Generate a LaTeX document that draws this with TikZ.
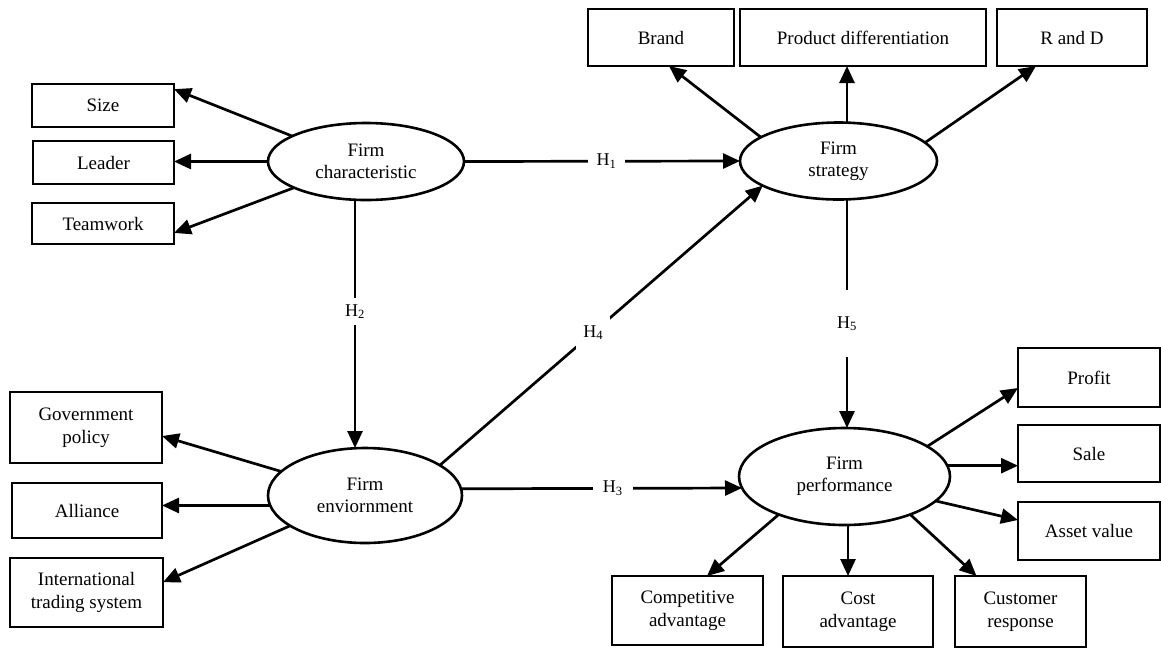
\documentclass[tikz,border=0pt]{standalone}
\usepackage{fontspec}
\setmainfont{Liberation Serif}
\usetikzlibrary{shapes.geometric,arrows.meta,calc}
\begin{document}
\begin{tikzpicture}[x=1pt,y=-1pt,
  box/.style={draw,line width=2.9pt,rectangle,inner sep=0pt,outer sep=0pt,align=center,font=\fontsize{19}{22.5}\selectfont},
  oval/.style={draw,line width=2.6pt,ellipse,inner sep=0pt,outer sep=0pt,align=center,font=\fontsize{19}{22}\selectfont},
  arr/.style={line width=2.7pt,-{Triangle[length=17pt,width=15pt]}},
  hyp/.style={fill=white,inner xsep=9pt,inner ysep=4pt,font=\fontsize{18}{20}\selectfont}
]
\fill[white] (0,0) rectangle (1161,649);
\useasboundingbox (0,0) rectangle (1161,649);

% left top boxes
\node[box,minimum width=142pt,minimum height=43pt] (size) at (103,105.5) {Size};
\node[box,minimum width=141pt,minimum height=43pt] (leader) at (103.5,162.5) {Leader};
\node[box,minimum width=142pt,minimum height=41pt] (team) at (103,223.5) {Teamwork};
% left bottom boxes
\node[box,minimum width=152pt,minimum height=71pt] (gov) at (86,427.5) {Government\\policy};
\node[box,minimum width=150pt,minimum height=55pt] (alli) at (87,510.5) {Alliance};
\node[box,minimum width=153pt,minimum height=69pt] (intl) at (86.5,592.5) {International\\trading system};
% top boxes
\node[box,minimum width=146pt,minimum height=57pt] (brand) at (661,37.5) {Brand};
\node[box,minimum width=246pt,minimum height=57pt] (pd) at (863,37.5) {Product differentiation};
\node[box,minimum width=150pt,minimum height=57pt] (rd) at (1072,37.5) {R and D};
% right boxes
\node[box,minimum width=142pt,minimum height=59pt] (profit) at (1089,377.5) {Profit};
\node[box,minimum width=142pt,minimum height=57pt] (sale) at (1089,453.5) {Sale};
\node[box,minimum width=142pt,minimum height=58pt] (asset) at (1089,531) {Asset value};
% bottom boxes
\node[box,minimum width=151pt,minimum height=69pt] (comp) at (687.5,610.5) {Competitive\\advantage};
\node[box,minimum width=150pt,minimum height=71pt] (cost) at (858,611.5) {Cost\\advantage};
\node[box,minimum width=131pt,minimum height=71pt] (cust) at (1020.5,611.5) {Customer\\response};

% ellipses
\node[oval,minimum width=196pt,minimum height=77pt] (char) at (366,161.5) {Firm\\characteristic};
\node[oval,minimum width=194pt,minimum height=95pt] (env) at (365,495.5) {Firm\\enviornment};
\node[oval,minimum width=197pt,minimum height=77pt] (strat) at (838.5,161) {Firm\\strategy};
\node[oval,minimum width=211pt,minimum height=97pt] (perf) at (844.5,476.5) {Firm\\performance};

% characteristic indicators
\draw[arr] (char.161) -- ($(size.north east)!0.12!(size.south east)$);
\draw[arr] (char.west) -- (char.west -| leader.east);
\draw[arr] (char.200) -- ($(team.north east)!0.73!(team.south east)$);
% environment indicators
\draw[arr] (env.164) -- ($(gov.north east)!0.62!(gov.south east)$);
\draw[arr] (env.186) -- (env.186 -| alli.east);
\draw[arr] (env.202) -- ($(intl.north east)!0.35!(intl.south east)$);
% strategy indicators
\coordinate (sn) at ($(strat.north)+(8.5,0)$);
\draw[arr] (strat.163) -- ($(brand.south)+(8,0)$);
\draw[arr] (sn) -- (sn |- pd.south);
\draw[arr] (strat.12) -- ($(rd.south)+(-36,0)$);
% performance indicators
\coordinate (ps) at ($(perf.south)+(3.5,0)$);
\draw[arr] (perf.20) -- ($(profit.west)+(0,10.5)$);
\draw[arr] (perf.6) -- (perf.6 -| sale.west);
\draw[arr] (perf.345) -- ($(asset.west)+(0,-11)$);
\draw[arr] (perf.210) -- ($(comp.north)+(19.5,0)$);
\draw[arr] (ps) -- (ps |- cost.north);
\draw[arr] (perf.330) -- ($(cust.north)+(-44,0)$);

% hypotheses
\draw[arr] (char.east) -- (strat.west) node[hyp,pos=0.516] {H\textsubscript{1}};
\coordinate (cs) at ($(char.south)+(-11,0)$);
\draw[arr] (cs) -- (cs |- env.north) node[hyp,pos=0.45,inner ysep=6pt] {H\textsubscript{2}};
\draw[arr] (env.22) -- (strat.198) node[hyp,pos=0.475,inner xsep=7pt,inner ysep=10pt] {H\textsubscript{4}};
\coordinate (ss) at ($(strat.south)+(8.5,0)$);
\draw[arr] (ss) -- (ss |- perf.north) node[hyp,pos=0.543,inner xsep=5pt,inner ysep=26pt] {H\textsubscript{5}};
\draw[arr] (env.4) -- ($(perf.center)+(-102.5,11.5)$) node[hyp,pos=0.54,inner xsep=10pt] {H\textsubscript{3}};
\end{tikzpicture}
\end{document}
